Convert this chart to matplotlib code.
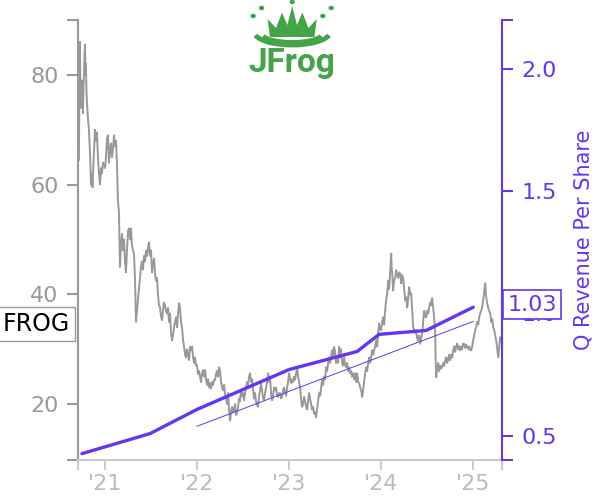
import numpy as np
import matplotlib.pyplot as plt
from matplotlib.patches import Polygon, Arc, Circle

# daily-ish close price of FROG (decimal years)
price_years = [
    2020.717, 2020.722, 2020.728, 2020.733, 2020.739, 2020.745, 2020.750, 2020.756, 2020.761, 2020.767,
    2020.772, 2020.778, 2020.783, 2020.788, 2020.793, 2020.799, 2020.804, 2020.815, 2020.826, 2020.837,
    2020.848, 2020.853, 2020.859, 2020.865, 2020.870, 2020.880, 2020.891, 2020.902, 2020.913, 2020.924,
    2020.935, 2020.946, 2020.957, 2020.967, 2020.978, 2021.000, 2021.011, 2021.022, 2021.033, 2021.043,
    2021.054, 2021.065, 2021.076, 2021.087, 2021.098, 2021.109, 2021.120, 2021.130, 2021.141, 2021.152,
    2021.163, 2021.174, 2021.185, 2021.196, 2021.207, 2021.218, 2021.228, 2021.239, 2021.250, 2021.261,
    2021.272, 2021.283, 2021.293, 2021.304, 2021.315, 2021.326, 2021.337, 2021.348, 2021.359, 2021.370,
    2021.380, 2021.391, 2021.402, 2021.413, 2021.424, 2021.435, 2021.446, 2021.457, 2021.467, 2021.478,
    2021.489, 2021.500, 2021.511, 2021.522, 2021.533, 2021.543, 2021.554, 2021.565, 2021.576, 2021.587,
    2021.598, 2021.609, 2021.620, 2021.630, 2021.641, 2021.652, 2021.663, 2021.674, 2021.685, 2021.696,
    2021.707, 2021.717, 2021.728, 2021.739, 2021.750, 2021.761, 2021.772, 2021.783, 2021.794, 2021.804,
    2021.815, 2021.826, 2021.837, 2021.848, 2021.859, 2021.870, 2021.880, 2021.891, 2021.902, 2021.913,
    2021.924, 2021.935, 2021.946, 2021.957, 2021.968, 2021.978, 2021.989, 2022.000, 2022.011, 2022.022,
    2022.033, 2022.043, 2022.054, 2022.065, 2022.076, 2022.087, 2022.098, 2022.109, 2022.120, 2022.130,
    2022.141, 2022.152, 2022.163, 2022.174, 2022.185, 2022.196, 2022.207, 2022.217, 2022.228, 2022.239,
    2022.250, 2022.261, 2022.272, 2022.283, 2022.293, 2022.304, 2022.315, 2022.326, 2022.337, 2022.348,
    2022.359, 2022.370, 2022.380, 2022.391, 2022.402, 2022.413, 2022.424, 2022.435, 2022.446, 2022.457,
    2022.467, 2022.478, 2022.489, 2022.500, 2022.511, 2022.522, 2022.533, 2022.543, 2022.554, 2022.565,
    2022.576, 2022.587, 2022.598, 2022.609, 2022.620, 2022.630, 2022.641, 2022.652, 2022.663, 2022.674,
    2022.685, 2022.696, 2022.707, 2022.717, 2022.728, 2022.739, 2022.750, 2022.761, 2022.772, 2022.783,
    2022.793, 2022.804, 2022.815, 2022.826, 2022.837, 2022.848, 2022.859, 2022.870, 2022.880, 2022.891,
    2022.902, 2022.913, 2022.924, 2022.935, 2022.946, 2022.957, 2022.968, 2022.978, 2022.989, 2023.000,
    2023.011, 2023.022, 2023.033, 2023.043, 2023.054, 2023.065, 2023.076, 2023.087, 2023.098, 2023.109,
    2023.120, 2023.130, 2023.141, 2023.152, 2023.163, 2023.174, 2023.185, 2023.196, 2023.207, 2023.217,
    2023.228, 2023.239, 2023.250, 2023.261, 2023.272, 2023.283, 2023.293, 2023.304, 2023.315, 2023.326,
    2023.337, 2023.348, 2023.359, 2023.370, 2023.380, 2023.391, 2023.402, 2023.413, 2023.424, 2023.435,
    2023.446, 2023.457, 2023.467, 2023.478, 2023.489, 2023.500, 2023.511, 2023.522, 2023.533, 2023.543,
    2023.554, 2023.565, 2023.576, 2023.587, 2023.598, 2023.609, 2023.620, 2023.630, 2023.641, 2023.652,
    2023.663, 2023.674, 2023.685, 2023.696, 2023.707, 2023.717, 2023.728, 2023.739, 2023.750, 2023.761,
    2023.772, 2023.783, 2023.794, 2023.804, 2023.815, 2023.826, 2023.837, 2023.848, 2023.859, 2023.870,
    2023.880, 2023.891, 2023.902, 2023.913, 2023.924, 2023.935, 2023.946, 2023.957, 2023.968, 2023.978,
    2023.989, 2024.000, 2024.011, 2024.022, 2024.033, 2024.043, 2024.054, 2024.065, 2024.076, 2024.087,
    2024.098, 2024.109, 2024.114, 2024.120, 2024.130, 2024.141, 2024.152, 2024.163, 2024.174, 2024.185,
    2024.196, 2024.207, 2024.217, 2024.228, 2024.239, 2024.250, 2024.261, 2024.272, 2024.283, 2024.293,
    2024.304, 2024.315, 2024.326, 2024.337, 2024.348, 2024.359, 2024.370, 2024.380, 2024.391, 2024.402,
    2024.413, 2024.424, 2024.435, 2024.446, 2024.457, 2024.467, 2024.478, 2024.489, 2024.500, 2024.511,
    2024.522, 2024.533, 2024.543, 2024.554, 2024.565, 2024.576, 2024.587, 2024.592, 2024.598, 2024.609,
    2024.620, 2024.630, 2024.641, 2024.652, 2024.663, 2024.674, 2024.685, 2024.696, 2024.707, 2024.717,
    2024.728, 2024.739, 2024.750, 2024.761, 2024.772, 2024.783, 2024.794, 2024.804, 2024.815, 2024.826,
    2024.837, 2024.848, 2024.859, 2024.870, 2024.880, 2024.891, 2024.902, 2024.913, 2024.924, 2024.935,
    2024.946, 2024.957, 2024.968, 2024.978, 2024.989, 2025.000, 2025.011, 2025.022, 2025.033, 2025.043,
    2025.054, 2025.065, 2025.076, 2025.087, 2025.098, 2025.109, 2025.120, 2025.130, 2025.141, 2025.152,
    2025.163, 2025.174, 2025.185, 2025.196, 2025.207, 2025.217, 2025.228, 2025.239, 2025.250, 2025.261,
    2025.272, 2025.283, 2025.293, 2025.304, 2025.315,
]
price_values = [
    64.5, 76.0, 86.0, 78.0, 74.0, 79.0, 77.0, 75.0, 73.0, 78.0,
    80.0, 84.0, 85.5, 80.0, 82.0, 77.0, 75.0, 72.0, 70.0, 66.0,
    60.0, 62.0, 61.0, 59.5, 62.0, 66.0, 70.0, 68.0, 69.5, 65.0,
    62.0, 60.0, 63.0, 62.0, 64.0, 63.0, 65.0, 68.5, 69.0, 64.0,
    66.0, 67.5, 65.0, 66.5, 69.0, 67.0, 68.0, 64.0, 57.0, 55.0,
    45.0, 49.0, 51.0, 48.0, 50.0, 46.0, 44.0, 48.0, 51.5, 52.0,
    50.0, 52.0, 49.0, 48.0, 47.5, 43.0, 35.0, 37.0, 39.0, 41.0,
    43.0, 45.0, 46.0, 44.5, 47.0, 46.0, 48.0, 47.0, 48.5, 49.5,
    47.0, 48.0, 44.0, 45.6, 46.5, 44.0, 42.5, 43.0, 40.0, 38.0,
    37.6, 36.0, 35.3, 37.0, 38.5, 38.0, 37.0, 36.5, 37.5, 35.0,
    36.5, 33.0, 31.6, 32.5, 34.0, 35.0, 35.8, 34.0, 36.5, 38.4,
    37.5, 35.0, 34.0, 31.6, 30.5, 29.0, 28.5, 30.0, 29.0, 28.0,
    30.4, 29.8, 30.5, 28.5, 27.5, 28.5, 27.0, 27.0, 25.5, 26.0,
    25.0, 24.0, 25.5, 26.2, 25.0, 26.2, 24.5, 23.5, 24.5, 23.0,
    23.8, 22.8, 24.0, 23.5, 24.4, 24.4, 25.5, 26.0, 25.0, 26.7,
    26.0, 24.0, 23.0, 22.5, 23.5, 22.0, 21.0, 20.0, 22.0, 19.0,
    17.0, 18.5, 19.5, 18.5, 19.0, 20.0, 18.0, 18.4, 19.5, 21.0,
    20.5, 22.5, 21.5, 22.0, 20.7, 22.0, 23.0, 24.0, 23.5, 25.0,
    25.6, 24.0, 24.5, 22.5, 21.0, 22.0, 20.5, 19.8, 19.5, 21.5,
    22.5, 23.8, 22.5, 21.0, 20.7, 22.0, 23.0, 24.0, 25.6, 24.0,
    25.0, 22.0, 20.7, 21.5, 23.0, 22.5, 23.0, 21.5, 21.3, 22.0,
    22.0, 21.0, 21.3, 22.5, 23.0, 22.0, 21.5, 23.0, 24.0, 25.6,
    24.5, 23.8, 24.5, 24.0, 25.0, 24.4, 25.5, 26.7, 25.0, 24.0,
    23.0, 21.0, 19.5, 20.0, 21.3, 20.5, 19.5, 19.0, 20.5, 22.0,
    21.0, 20.0, 19.0, 19.5, 18.2, 18.5, 17.6, 19.0, 20.5, 22.0,
    21.5, 23.0, 24.4, 23.5, 25.0, 24.5, 26.7, 26.0, 27.5, 28.5,
    27.5, 28.8, 29.8, 28.5, 30.4, 29.5, 27.5, 28.5, 27.5, 30.4,
    28.5, 30.0, 27.5, 27.0, 28.5, 27.0, 26.7, 27.5, 26.0, 26.7,
    25.6, 26.0, 25.0, 25.6, 24.5, 25.6, 24.0, 25.6, 24.0, 23.8,
    23.0, 22.5, 21.3, 22.5, 24.0, 25.6, 26.7, 26.0, 27.5, 28.5,
    27.5, 28.5, 29.8, 29.0, 29.8, 30.5, 31.6, 30.5, 33.0, 34.7,
    33.5, 33.5, 35.0, 35.8, 34.5, 37.0, 38.9, 40.0, 42.5, 41.0,
    44.0, 47.4, 45.0, 44.0, 40.7, 42.5, 43.0, 44.4, 43.5, 43.0,
    44.0, 43.8, 42.0, 43.5, 43.0, 41.0, 38.9, 39.5, 37.6, 39.0,
    41.3, 40.0, 40.2, 37.0, 34.0, 33.5, 32.9, 33.5, 32.0, 31.6,
    32.5, 31.0, 32.0, 32.9, 35.0, 37.0, 36.0, 35.8, 37.0, 36.5,
    37.6, 38.5, 38.0, 39.3, 37.5, 35.8, 32.9, 28.0, 24.9, 26.5,
    27.5, 26.0, 27.0, 26.5, 26.7, 27.5, 27.0, 28.0, 28.5, 27.5,
    28.0, 29.0, 28.0, 29.0, 28.5, 29.8, 30.5, 29.5, 30.5, 31.0,
    30.0, 30.5, 29.8, 30.5, 30.0, 31.0, 31.0, 30.2, 30.8, 30.4,
    30.0, 30.5, 29.8, 29.8, 30.5, 31.6, 32.5, 33.5, 34.0, 35.0,
    34.5, 35.8, 36.5, 37.0, 37.6, 39.0, 40.5, 42.0, 39.5, 38.4,
    37.5, 37.0, 36.5, 35.0, 35.5, 34.0, 33.5, 32.5, 31.6, 30.0,
    28.5, 30.5, 32.2, 31.5, 31.0,
]

# quarterly revenue per share (right axis)
rev_years = [2020.750, 2021.489, 2022.000, 2023.000, 2023.739, 2023.978, 2024.489, 2025.000]
rev_per_share = [0.426, 0.508, 0.607, 0.770, 0.844, 0.914, 0.930, 1.025]

# linear trend of revenue per share
trend_years = [2022.0, 2025.0]
trend_values = [0.538, 0.967]

year_ticks = [2021, 2022, 2023, 2024, 2025]
year_labels = ["'21", "'22", "'23", "'24", "'25"]
price_ticks = [20, 40, 60, 80]
rev_ticks = [0.5, 1.0, 1.5, 2.0]
ticker = "FROG"
last_rev_label = "1.03"

PURPLE = '#6435f5'
GRAY = '#999999'
LIGHT = '#cccccc'

x_lim = (2020.707, 2025.315)
price_lim = (9.8, 90.0)
rev_lim = (0.4, 2.2)

fig = plt.figure(figsize=(6, 5), dpi=100)
ax = fig.add_axes([0.13, 0.08, 0.707, 0.88])
ax2 = ax.twinx()

ax.plot(price_years, price_values, color=GRAY, lw=1.4, zorder=2)
ax2.plot(rev_years, rev_per_share, color=PURPLE, lw=2.4, zorder=3, solid_capstyle='round')
ax2.plot(trend_years, trend_values, color=PURPLE, lw=0.7, zorder=3)

ax.set_xlim(*x_lim)
ax.set_ylim(*price_lim)
ax2.set_ylim(*rev_lim)

# ticks incl. the axis ends (unlabelled), like the reference
ax.set_xticks([x_lim[0]] + year_ticks + [x_lim[1]])
ax.set_xticklabels([''] + year_labels + [''])
ax.set_yticks([price_lim[0]] + price_ticks + [price_lim[1]])
ax.set_yticklabels([''] + [str(t) for t in price_ticks] + [''])
ax2.set_yticks([rev_lim[0]] + rev_ticks + [rev_lim[1]])
ax2.set_yticklabels([''] + [f'{t:.1f}' for t in rev_ticks] + [''])

for s in ['top', 'right']:
    ax.spines[s].set_visible(False)
for s in ['top', 'left', 'bottom']:
    ax2.spines[s].set_visible(False)
ax.spines['left'].set_color(GRAY)
ax.spines['left'].set_linewidth(1.5)
ax.spines['bottom'].set_color(LIGHT)
ax.spines['bottom'].set_linewidth(1.5)
ax2.spines['right'].set_color(PURPLE)
ax2.spines['right'].set_linewidth(1.5)

ax.tick_params(axis='y', colors=GRAY, labelcolor=GRAY, length=8, width=1.5, labelsize=16, pad=6)
ax.tick_params(axis='x', colors=LIGHT, labelcolor='#bbbbbb', length=7, width=1.5, labelsize=16, pad=3)
ax2.tick_params(axis='y', colors=PURPLE, labelcolor=PURPLE, length=8, width=1.5, labelsize=16, pad=6)
ax2.set_ylabel('Q Revenue Per Share', color=PURPLE, fontsize=15, labelpad=12)

ax2.annotate(last_rev_label, xy=(1.0, 1.035), xycoords=ax2.get_yaxis_transform(),
             xytext=(5, 0), textcoords='offset pixels', color=PURPLE,
             fontsize=16, ha='left', va='center', zorder=5, annotation_clip=False,
             bbox=dict(boxstyle='square,pad=0.2', fc='white', ec=PURPLE, lw=1.2))

fig.text(0.005, 0.352, ticker, fontsize=17, color='black', ha='left', va='center',
         bbox=dict(boxstyle='square,pad=0.22', fc='white', ec=GRAY, lw=1.0))

# logo, drawn roughly: splash crown, ripples and wordmark
GREEN = '#43a548'
fig.text(0.487, 0.856, 'JFrog', color=GREEN, fontsize=24, fontweight='bold',
         family=['Roboto', 'DejaVu Sans'], ha='center', va='baseline')
crown = Polygon([(0.450, 0.926), (0.446, 0.962), (0.460, 0.944), (0.470, 0.975), (0.479, 0.950),
                 (0.487, 0.988), (0.495, 0.950), (0.504, 0.975), (0.514, 0.944), (0.528, 0.962),
                 (0.524, 0.926)], closed=True, transform=fig.transFigure, fc=GREEN, ec='none')
fig.patches.append(crown)
for w, h, yc in [(0.125, 0.05, 0.935), (0.10, 0.034, 0.932)]:
    fig.patches.append(Arc((0.487, yc), w, h, theta1=185, theta2=355, transform=fig.transFigure,
                           color=GREEN, lw=3.5))
for cx, cy in [(0.422, 0.968), (0.436, 0.984), (0.552, 0.984), (0.538, 0.968), (0.487, 0.996)]:
    fig.patches.append(Circle((cx, cy), 0.0045, transform=fig.transFigure, fc=GREEN, ec='none'))

fig.savefig('out.png', dpi=100, facecolor='white')
